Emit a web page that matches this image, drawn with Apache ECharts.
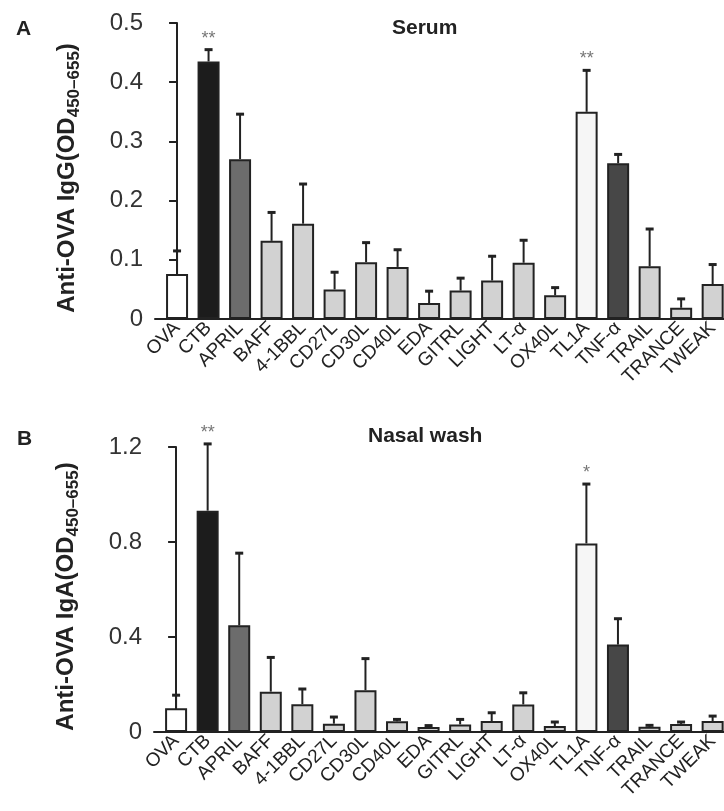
<!DOCTYPE html>
<html>
<head>
<meta charset="utf-8">
<script src="https://cdn.jsdelivr.net/npm/echarts@6/dist/echarts.min.js"></script>
<style>
  html, body { margin: 0; padding: 0; background: #fff; }
  #chart { width: 724px; height: 811px; }
</style>
</head>
<body>
<div id="chart"></div>
<script>
// 分类
const cats = ['OVA', 'CTB', 'APRIL', 'BAFF', '4-1BBL', 'CD27L', 'CD30L', 'CD40L', 'EDA', 'GITRL', 'LIGHT', 'LT-α', 'OX40L', 'TL1A', 'TNF-α', 'TRAIL', 'TRANCE', 'TWEAK'];

// A: Serum IgG
const serumMean = [0.076, 0.435, 0.27, 0.132, 0.161, 0.05, 0.096, 0.088, 0.027, 0.048, 0.065, 0.095, 0.04, 0.35, 0.263, 0.089, 0.019, 0.059];
const serumErr = [0.039, 0.02, 0.076, 0.048, 0.067, 0.029, 0.033, 0.029, 0.02, 0.021, 0.041, 0.038, 0.013, 0.07, 0.015, 0.063, 0.015, 0.033];
const serumSig = ['', '**', '', '', '', '', '', '', '', '', '', '', '', '**', '', '', '', ''];
const serumTicks = [0, 0.5, 0.1];

// B: Nasal wash IgA
const nasalMean = [0.10, 0.932, 0.449, 0.17, 0.117, 0.035, 0.176, 0.045, 0.021, 0.032, 0.046, 0.116, 0.025, 0.794, 0.368, 0.022, 0.034, 0.046];
const nasalErr = [0.055, 0.281, 0.304, 0.144, 0.064, 0.028, 0.133, 0.008, 0.006, 0.021, 0.035, 0.049, 0.017, 0.25, 0.109, 0.006, 0.008, 0.021];
const nasalSig = ['', '**', '', '', '', '', '', '', '', '', '', '', '', '*', '', '', '', ''];
const nasalTicks = [0, 1.2, 0.4];

const FONT = '"Liberation Sans", Arial, Helvetica, sans-serif';
const INK = '#222';

// 柱子颜色
const fillOf = (name) => {
  if (name === 'OVA') return '#ffffff';
  if (name === 'CTB') return '#1c1c1c';
  if (name === 'APRIL') return '#6c6c6c';
  if (name === 'TL1A') return '#f6f6f6';
  if (name === 'TNF-α') return '#474747';
  return '#d2d2d2';
};

const barData = (vals) => vals.map((v, i) => ({
  value: [i, v],
  itemStyle: { color: fillOf(cats[i]) }
}));

// 误差线 + 星号
const errorItem = (sig) => (params, api) => {
  const x = api.value(0);
  const m = api.value(1);
  const e = api.value(2);
  const p0 = api.coord([x, m]);
  const p1 = api.coord([x, m + e]);
  const children = [
    { type: 'line', shape: { x1: p0[0], y1: p0[1], x2: p1[0], y2: p1[1] }, style: { stroke: INK, lineWidth: 2 } },
    { type: 'line', shape: { x1: p1[0] - 4, y1: p1[1], x2: p1[0] + 4, y2: p1[1] }, style: { stroke: INK, lineWidth: 3 } }
  ];
  const s = sig[params.dataIndex];
  if (s) {
    children.push({
      type: 'text',
      style: { text: s, x: p1[0], y: p1[1] - 2, align: 'center', verticalAlign: 'bottom', fill: '#777', font: '18px ' + FONT }
    });
  }
  return { type: 'group', children };
};

const xAxisCfg = (gridIndex) => ({
  type: 'value',
  gridIndex,
  min: -0.7,
  max: 17.36,
  splitLine: { show: false },
  axisLine: { show: true, lineStyle: { color: INK, width: 2 } },
  axisTick: { show: false },
  axisLabel: {
    customValues: cats.map((c, i) => i),
    formatter: (v) => cats[v] || '',
    rotate: 45,
    margin: 6,
    color: INK,
    fontSize: 19,
    fontFamily: FONT
  }
});

const yAxisCfg = (gridIndex, ticks, name) => ({
  type: 'value',
  gridIndex,
  min: ticks[0],
  max: ticks[1],
  interval: ticks[2],
  name,
  nameLocation: 'middle',
  nameRotate: 90,
  nameGap: 72,
  nameTextStyle: {
    color: INK, fontSize: 24, fontWeight: 'bold', fontFamily: FONT,
    padding: [0, 14, 0, 0],
    rich: {
      sub: { fontSize: 17, fontWeight: 'bold', fontFamily: FONT, color: INK, padding: [14, 0, 0, 0] }
    }
  },
  splitLine: { show: false },
  axisLine: { show: true, lineStyle: { color: INK, width: 2 } },
  axisTick: { show: true, length: 8, lineStyle: { color: INK, width: 2 } },
  axisLabel: { color: '#333', fontSize: 24, fontFamily: FONT, margin: 12 }
});

const chart = echarts.init(document.getElementById('chart'));
const option = {
  animation: false,
  backgroundColor: '#fff',
  title: [
    { text: 'A', left: 11, top: 14, textStyle: { fontSize: 21, fontWeight: 'bold', color: INK, fontFamily: FONT } },
    { text: 'Serum', left: 387, top: 13, textStyle: { fontSize: 21, fontWeight: 'bold', color: INK, fontFamily: FONT } },
    { text: 'B', left: 12, top: 424, textStyle: { fontSize: 21, fontWeight: 'bold', color: INK, fontFamily: FONT } },
    { text: 'Nasal wash', left: 363, top: 421, textStyle: { fontSize: 21, fontWeight: 'bold', color: INK, fontFamily: FONT } }
  ],
  grid: [
    { left: 155, right: 0, top: 23, height: 296 },
    { left: 154, right: 0, top: 447, height: 285 }
  ],
  xAxis: [xAxisCfg(0), xAxisCfg(1)],
  yAxis: [
    yAxisCfg(0, serumTicks, 'Anti-OVA IgG(OD{sub|450–655})'),
    yAxisCfg(1, nasalTicks, 'Anti-OVA IgA(OD{sub|450–655})')
  ],
  series: [
    {
      type: 'bar', xAxisIndex: 0, yAxisIndex: 0, barWidth: 22,
      itemStyle: { borderColor: INK, borderWidth: 2 },
      data: barData(serumMean), z: 2
    },
    {
      type: 'custom', xAxisIndex: 0, yAxisIndex: 0,
      renderItem: errorItem(serumSig),
      data: serumMean.map((v, i) => [i, v, serumErr[i]]), z: 1
    },
    {
      type: 'bar', xAxisIndex: 1, yAxisIndex: 1, barWidth: 22,
      itemStyle: { borderColor: INK, borderWidth: 2 },
      data: barData(nasalMean), z: 2
    },
    {
      type: 'custom', xAxisIndex: 1, yAxisIndex: 1,
      renderItem: errorItem(nasalSig),
      data: nasalMean.map((v, i) => [i, v, nasalErr[i]]), z: 1
    }
  ]
};
chart.setOption(option);
</script>
</body>
</html>
